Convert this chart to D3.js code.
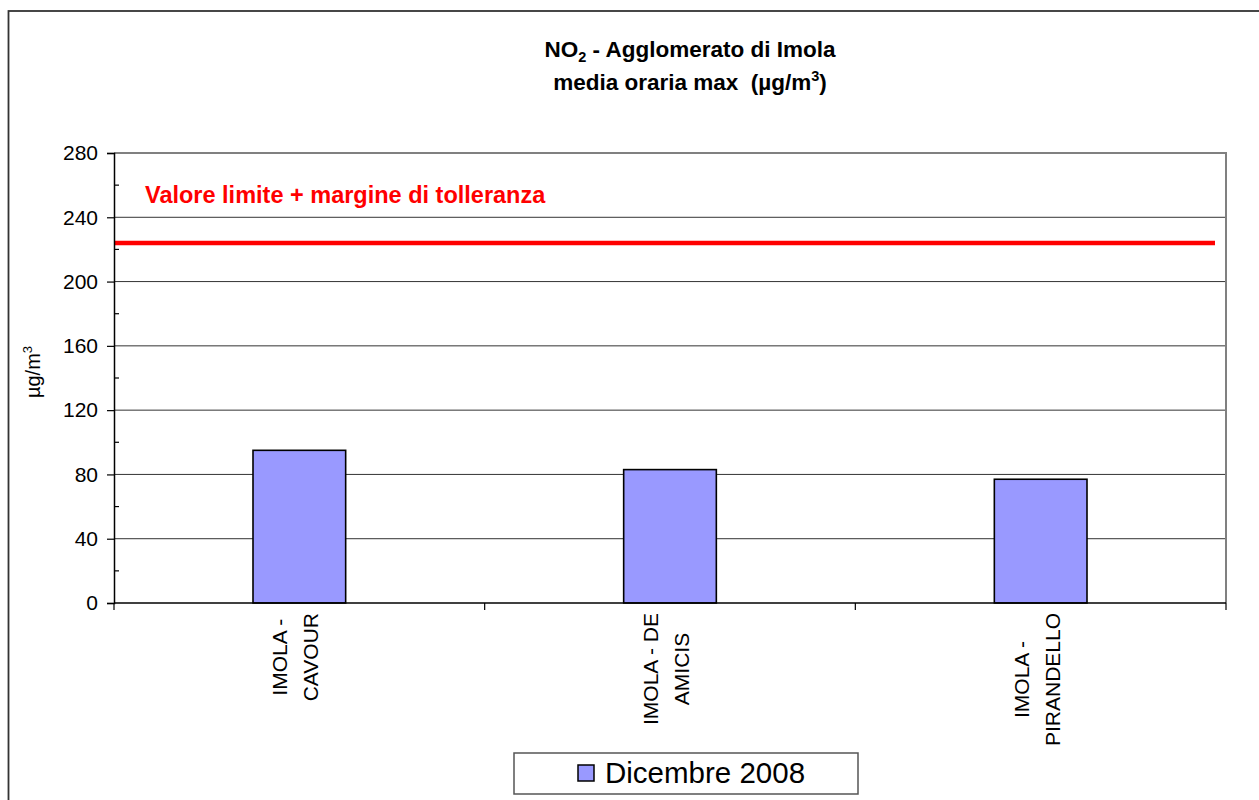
<!DOCTYPE html>
<html>
<head>
<meta charset="utf-8">
<script src="https://cdn.jsdelivr.net/npm/d3@7"></script>
<style>
  html, body { margin: 0; padding: 0; background: #fff; }
  svg { display: block; font-family: Arial, "Liberation Sans", sans-serif; }
</style>
</head>
<body>
<div id="chart"></div>
<script>
// NO2 - Agglomerato di Imola, media oraria max (Dicembre 2008)

const categories = ['IMOLA - CAVOUR', 'IMOLA - DE AMICIS', 'IMOLA - PIRANDELLO'];
const labelLines = [['IMOLA -', 'CAVOUR'], ['IMOLA - DE', 'AMICIS'], ['IMOLA -', 'PIRANDELLO']];
const values = [95, 83, 77];
const seriesName = 'Dicembre 2008';
const limitValue = 224;
const limitLabel = 'Valore limite + margine di tolleranza';
const yTicks = [0, 40, 80, 120, 160, 200, 240, 280];
const yMinorTicks = [20, 60, 100, 140, 180, 220, 260];

const COLORS = {
  bar: '#9999ff', barStroke: '#000', grid: '#333', axis: '#000',
  plotBorder: '#808080', limit: '#ff0000', text: '#000', frame: '#333',
};

const W = 1259, H = 800;
const M = { top: 153, right: 33, bottom: 197, left: 114 };
const iW = W - M.left - M.right;
const iH = H - M.top - M.bottom;

const svg = d3.select('#chart').append('svg')
  .attr('width', W).attr('height', H);

// cornice esterna del grafico
svg.append('rect')
  .attr('x', 8.5).attr('y', 11).attr('width', W + 20).attr('height', H + 20)
  .attr('fill', '#fff').attr('stroke', COLORS.frame).attr('stroke-width', 1.8);

// ── titolo ──────────────────────────────────────────────────────────────────
const t1 = svg.append('text').attr('x', 690).attr('y', 57)
  .attr('text-anchor', 'middle').attr('font-weight', 'bold').attr('font-size', 22.5)
  .attr('fill', COLORS.text).style('white-space', 'pre');
t1.append('tspan').text('NO');
t1.append('tspan').attr('font-size', 14.5).attr('dy', 5).text('2');
t1.append('tspan').attr('dy', -5).text(' - Agglomerato di Imola');

const t2 = svg.append('text').attr('x', 690).attr('y', 90)
  .attr('text-anchor', 'middle').attr('font-weight', 'bold').attr('font-size', 22.5)
  .attr('fill', COLORS.text).style('white-space', 'pre');
t2.append('tspan').text('media oraria max  (µg/m');
t2.append('tspan').attr('font-size', 14.5).attr('dy', -9).text('3');
t2.append('tspan').attr('dy', 9).text(')');

const g = svg.append('g').attr('transform', `translate(${M.left},${M.top})`);

const x = d3.scaleBand().domain(categories).range([0, iW]).padding(0);
const y = d3.scaleLinear().domain([0, 280]).range([iH, 0]);
const barW = x.bandwidth() * 0.25;

// griglia
g.append('g').selectAll('line')
  .data(yTicks.filter(v => v > 0 && v < 280))
  .join('line')
  .attr('x1', 0).attr('x2', iW)
  .attr('y1', d => y(d)).attr('y2', d => y(d))
  .attr('stroke', COLORS.grid).attr('stroke-width', 1);

// bordo area del tracciato (alto e destra)
g.append('path')
  .attr('d', `M0,${y(280)}H${iW}V${iH}`)
  .attr('fill', 'none').attr('stroke', COLORS.plotBorder).attr('stroke-width', 2);

// barre
g.selectAll('.bar')
  .data(values)
  .join('rect')
  .attr('class', 'bar')
  .attr('x', (d, i) => x(categories[i]) + (x.bandwidth() - barW) / 2)
  .attr('y', d => y(d))
  .attr('width', barW)
  .attr('height', d => iH - y(d))
  .attr('fill', COLORS.bar)
  .attr('stroke', COLORS.barStroke).attr('stroke-width', 1.6);

// linea limite
g.append('line')
  .attr('x1', 0).attr('x2', iW - 11)
  .attr('y1', y(limitValue)).attr('y2', y(limitValue))
  .attr('stroke', COLORS.limit).attr('stroke-width', 4.5);

g.append('text')
  .attr('x', 31).attr('y', y(limitValue) - 40)
  .attr('font-weight', 'bold').attr('font-size', 23.5)
  .attr('fill', COLORS.limit)
  .text(limitLabel);

// asse Y
g.append('g')
  .call(d3.axisLeft(y).tickValues(yTicks).tickSize(7).tickPadding(9))
  .call(ax => ax.select('.domain').attr('stroke', COLORS.axis).attr('stroke-width', 1.5))
  .call(ax => ax.selectAll('line').attr('stroke', COLORS.axis).attr('stroke-width', 1.2))
  .call(ax => ax.selectAll('text').attr('fill', COLORS.text).attr('font-size', 21)
    .attr('font-family', 'Arial, "Liberation Sans", sans-serif'));

g.append('g').selectAll('line')
  .data(yMinorTicks)
  .join('line')
  .attr('x1', 0).attr('x2', 5)
  .attr('y1', d => y(d)).attr('y2', d => y(d))
  .attr('stroke', COLORS.axis).attr('stroke-width', 1.2);

// asse X
g.append('line')
  .attr('x1', 0).attr('x2', iW).attr('y1', iH).attr('y2', iH)
  .attr('stroke', COLORS.axis).attr('stroke-width', 1.5);

g.append('g').selectAll('line')
  .data([...categories.map(c => x(c)), iW])
  .join('line')
  .attr('x1', d => d).attr('x2', d => d)
  .attr('y1', iH).attr('y2', iH + 7)
  .attr('stroke', COLORS.axis).attr('stroke-width', 1.2);

// etichette categorie, ruotate
labelLines.forEach((lines, i) => {
  const lg = g.append('g')
    .attr('transform', `translate(${x(categories[i]) + x.bandwidth() / 2},${iH + 10}) rotate(-90)`);
  const texts = lines.map((l, j) => lg.append('text')
    .attr('y', (j - 0.5) * 31 + 3.5)
    .attr('text-anchor', 'middle')
    .attr('font-size', 21)
    .attr('fill', COLORS.text)
    .text(l));
  const maxLen = d3.max(texts, t => t.node().getComputedTextLength());
  texts.forEach(t => t.attr('x', -maxLen / 2));
});

// titolo asse Y
const yt = svg.append('text')
  .attr('transform', `translate(40,${M.top + iH / 2 - 6}) rotate(-90)`)
  .attr('text-anchor', 'middle').attr('font-size', 20).attr('fill', COLORS.text);
yt.append('tspan').text('µg/m');
yt.append('tspan').attr('font-size', 13).attr('dy', -8).text('3');

// legenda
const lgd = svg.append('g').attr('transform', 'translate(514,753)');
lgd.append('rect').attr('width', 344).attr('height', 41)
  .attr('fill', '#fff').attr('stroke', '#555').attr('stroke-width', 1.5);
lgd.append('rect').attr('x', 64).attr('y', 12).attr('width', 16).attr('height', 16)
  .attr('fill', COLORS.bar).attr('stroke', '#000').attr('stroke-width', 1.5);
lgd.append('text').attr('x', 91).attr('y', 30)
  .attr('font-size', 29.5).attr('fill', COLORS.text)
  .text(seriesName);
</script>
</body>
</html>
